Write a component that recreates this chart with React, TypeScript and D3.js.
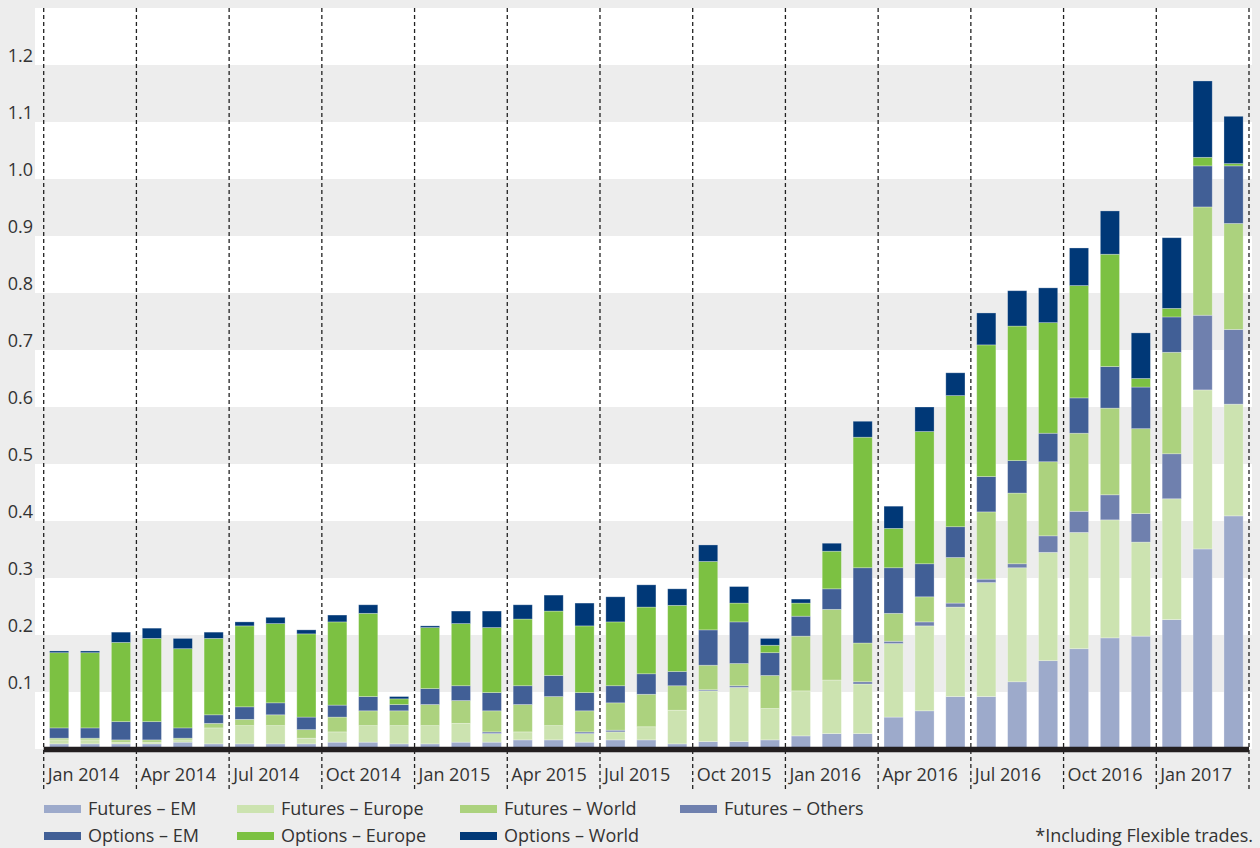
import React from 'react'
import * as d3 from 'd3'

// monthly values, Jan 2014 .. Mar 2017 (39 months)
const months = d3.range(39).map(i => 'm' + i)

const futuresEM = [0.009, 0.009, 0.009, 0.009, 0.012, 0.009, 0.009, 0.009, 0.009, 0.012, 0.012, 0.009, 0.009, 0.012, 0.012, 0.016, 0.016, 0.012, 0.016, 0.016, 0.009, 0.013, 0.013, 0.016, 0.023, 0.027, 0.027, 0.056, 0.067, 0.092, 0.092, 0.118, 0.155, 0.176, 0.195, 0.198, 0.227, 0.351, 0.409]
const futuresEurope = [0.007, 0.007, 0.003, 0.003, 0.004, 0.028, 0.032, 0.032, 0.010, 0.018, 0.029, 0.032, 0.032, 0.033, 0.015, 0.014, 0.025, 0.015, 0.014, 0.023, 0.059, 0.089, 0.095, 0.055, 0.079, 0.094, 0.087, 0.129, 0.149, 0.157, 0.200, 0.200, 0.190, 0.204, 0.207, 0.165, 0.212, 0.279, 0.196]
const futuresOthers = [0, 0, 0, 0, 0, 0, 0, 0, 0, 0, 0, 0, 0, 0, 0.003, 0, 0, 0.003, 0.003, 0, 0, 0.002, 0.003, 0, 0, 0, 0.004, 0.004, 0.007, 0.007, 0.006, 0.007, 0.029, 0.037, 0.044, 0.050, 0.079, 0.131, 0.131]
const futuresWorld = [0.003, 0.003, 0.004, 0.004, 0.003, 0.008, 0.011, 0.019, 0.015, 0.026, 0.026, 0.026, 0.037, 0.040, 0.037, 0.048, 0.051, 0.037, 0.048, 0.057, 0.043, 0.043, 0.039, 0.058, 0.096, 0.124, 0.068, 0.049, 0.044, 0.080, 0.118, 0.124, 0.130, 0.137, 0.152, 0.149, 0.178, 0.190, 0.186]
const optionsEM = [0.018, 0.018, 0.032, 0.032, 0.018, 0.015, 0.022, 0.021, 0.022, 0.021, 0.025, 0.011, 0.028, 0.026, 0.032, 0.033, 0.037, 0.032, 0.030, 0.036, 0.025, 0.062, 0.073, 0.040, 0.035, 0.036, 0.132, 0.080, 0.058, 0.054, 0.062, 0.057, 0.050, 0.062, 0.073, 0.073, 0.062, 0.072, 0.101]
const optionsEurope = [0.132, 0.132, 0.139, 0.146, 0.139, 0.134, 0.142, 0.139, 0.146, 0.146, 0.146, 0.010, 0.107, 0.109, 0.114, 0.117, 0.113, 0.117, 0.112, 0.117, 0.116, 0.120, 0.033, 0.013, 0.023, 0.066, 0.229, 0.069, 0.232, 0.230, 0.231, 0.236, 0.194, 0.197, 0.197, 0.015, 0.015, 0.015, 0.004]
const optionsWorld = [0.003, 0.003, 0.018, 0.018, 0.018, 0.011, 0.007, 0.011, 0.007, 0.012, 0.015, 0.004, 0.003, 0.022, 0.029, 0.025, 0.028, 0.040, 0.044, 0.039, 0.029, 0.029, 0.029, 0.012, 0.007, 0.014, 0.028, 0.039, 0.043, 0.040, 0.056, 0.062, 0.061, 0.066, 0.076, 0.080, 0.124, 0.134, 0.083]

const quarterLabels = ['Jan 2014', 'Apr 2014', 'Jul 2014', 'Oct 2014', 'Jan 2015', 'Apr 2015', 'Jul 2015', 'Oct 2015', 'Jan 2016', 'Apr 2016', 'Jul 2016', 'Oct 2016', 'Jan 2017']
const yTicks = [0.1, 0.2, 0.3, 0.4, 0.5, 0.6, 0.7, 0.8, 0.9, 1.0, 1.1, 1.2]

// stacking order bottom -> top
const series = [
  {key: 'Futures – EM', values: futuresEM, color: '#9daacb'},
  {key: 'Futures – Europe', values: futuresEurope, color: '#cce3b0'},
  {key: 'Futures – Others', values: futuresOthers, color: '#6f80ae'},
  {key: 'Futures – World', values: futuresWorld, color: '#acd27e'},
  {key: 'Options – EM', values: optionsEM, color: '#415f96'},
  {key: 'Options – Europe', values: optionsEurope, color: '#7cc142'},
  {key: 'Options – World', values: optionsWorld, color: '#003877'}
]

// legend layout order (two rows, four columns)
const legendRows = [
  ['Futures – EM', 'Futures – Europe', 'Futures – World', 'Futures – Others'],
  ['Options – EM', 'Options – Europe', 'Options – World']
]

const W = 1260
const H = 848
const font = '"Open Sans", sans-serif'
const textColor = '#333'

const App = () => {
  const left = 43.7
  const right = 1249
  const y = d3.scaleLinear().domain([0, 1.3]).range([749, 8])
  const x = d3.scaleBand().domain(months).range([left, right]).paddingInner(0.38).paddingOuter(0.19)
  const step = x.step()

  const table = months.map((m, i) => {
    const row: any = {month: m}
    series.forEach(s => { row[s.key] = s.values[i] })
    return row
  })
  const stacked = d3.stack().keys(series.map(s => s.key))(table)

  const bands = d3.range(0, 1.3, 0.1).map((v, i) => ({v, white: i % 2 === 0}))

  const colorOf = (k: string) => series.find(s => s.key === k)!.color
  const legendX = [44, 237, 460, 680]
  const legendY = [809, 836]

  return (
    <svg width={W} height={H} style={{position: 'absolute', left: 0, top: 0, display: 'block'}} fontFamily={font}>
      <rect x={0} y={0} width={W} height={H} fill="#ededed"/>
      <g>
        {bands.filter(b => b.white).map((b, i) =>
          <rect key={i} x={35} width={1252 - 35} y={y(Math.min(b.v + 0.1, 1.3))} height={y(b.v) - y(Math.min(b.v + 0.1, 1.3))} fill="#ffffff"/>
        )}
      </g>
      <g>
        {yTicks.map(t =>
          <text key={t} x={33} y={y(t) - 3} textAnchor="end" fontSize={18} fill={textColor}>{t.toFixed(1)}</text>
        )}
      </g>
      <g>
        {stacked.map(layer =>
          <g key={layer.key} fill={colorOf(layer.key)}>
            {layer.map((d, i) => (d[1] - d[0] > 0) &&
              <rect key={i} x={x(months[i])} width={x.bandwidth()} y={y(d[1])} height={y(d[0]) - y(d[1])}
                stroke="rgba(255,255,255,0.35)" strokeWidth={0.8}/>
            )}
          </g>
        )}
      </g>
      <g>
        {d3.range(quarterLabels.length + 1).map(k =>
          <line key={k} x1={left + k * step * 3} x2={left + k * step * 3} y1={8} y2={790}
            stroke="#222" strokeWidth={1.3} strokeDasharray="4,3"/>
        )}
      </g>
      <line x1={left} x2={right} y1={749.5} y2={749.5} stroke="#231f20" strokeWidth={5.5}/>
      <g>
        {quarterLabels.map((q, k) =>
          <text key={q} x={left + k * step * 3 + 4} y={781} fontSize={18} fill={textColor}>{q}</text>
        )}
      </g>
      <g>
        {legendRows.map((row, r) => row.map((k, c) =>
          <g key={k} transform={`translate(${legendX[c]},${legendY[r]})`}>
            <rect x={0} y={-4} width={37} height={8} fill={colorOf(k)}/>
            <text x={44} y={6} fontSize={18} fill={textColor}>{k}</text>
          </g>
        ))}
      </g>
      <text x={1253} y={842} textAnchor="end" fontSize={18} fill={textColor}>*Including Flexible trades.</text>
    </svg>
  )
}

export default App
